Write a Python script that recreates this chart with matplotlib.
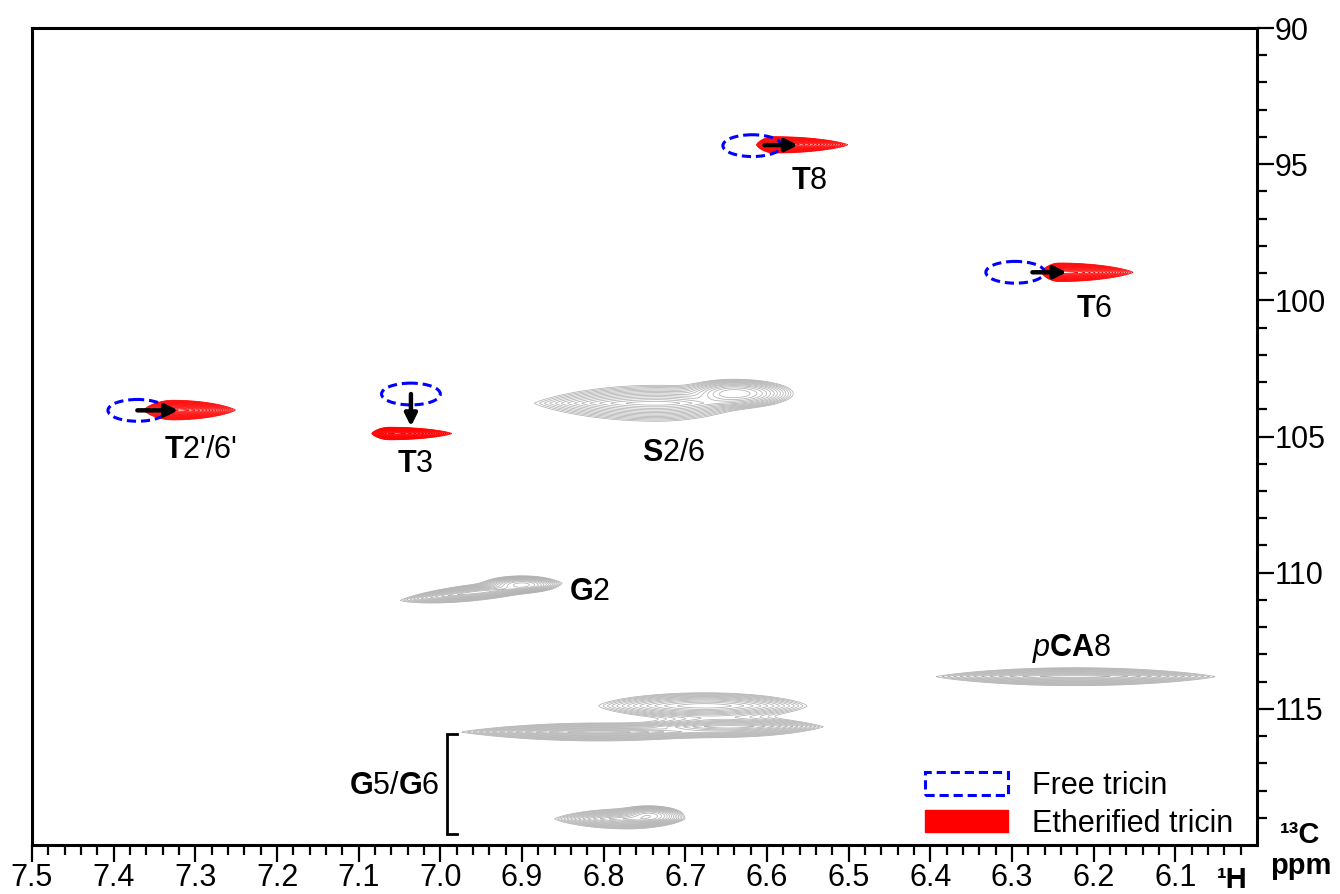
import numpy as np
import matplotlib
matplotlib.use('Agg')
import matplotlib.pyplot as plt
from matplotlib.patches import Ellipse, Patch

plt.rcParams['font.family'] = ['Liberation Sans', 'DejaVu Sans']
plt.rcParams['mathtext.fontset'] = 'custom'
plt.rcParams['mathtext.rm'] = 'Liberation Sans'
plt.rcParams['mathtext.bf'] = 'Liberation Sans:bold'
plt.rcParams['mathtext.it'] = 'Liberation Sans:italic'

# ---------------- data (chemical shifts, ppm) ----------------
# gray lignin cross-peak components:
# 1H centre, 13C centre, 1H half-width toward high ppm (left), toward low ppm (right),
# 13C half-width, shape exponent, tilt (13C ppm per 1H ppm)
gray_h = [6.735, 6.640, 6.955, 6.900, 6.676, 6.805, 6.646, 6.770, 6.744, 6.223]
gray_c = [103.78, 103.42, 110.72, 110.42, 114.89, 115.85, 115.66, 119.04, 118.90, 113.82]
gray_wl = [0.150, 0.060, 0.094, 0.045, 0.130, 0.170, 0.110, 0.090, 0.035, 0.170]
gray_wr = [0.110, 0.072, 0.098, 0.042, 0.125, 0.160, 0.115, 0.065, 0.040, 0.172]
gray_wc = [0.66, 0.52, 0.30, 0.30, 0.48, 0.33, 0.37, 0.37, 0.33, 0.33]
gray_p = [1.2, 2.0, 1.3, 2.0, 1.5, 1.1, 1.2, 1.3, 2.0, 1.2]
gray_tilt = [0.0, 0.0, 3.2, 0.0, 0.0, 0.0, 0.0, 0.0, 0.0, 0.0]

# etherified tricin (red) components
red_h = [7.327, 7.062, 6.591, 6.242]
red_c = [104.03, 104.89, 94.29, 98.97]
red_wl = [0.036, 0.022, 0.022, 0.022]
red_wr = [0.076, 0.076, 0.090, 0.090]
red_wc = [0.36, 0.23, 0.30, 0.34]
red_p = [1.3, 1.3, 1.3, 1.3]
red_tilt = [0.0, 0.0, 0.0, 0.0]

# free tricin positions (dashed ellipses)
free_h = [7.371, 7.036, 6.618, 6.296]
free_c = [104.04, 103.44, 94.32, 98.97]

# shift arrows
arrow_from_h = [7.371, 7.036, 6.603, 6.275]
arrow_from_c = [104.04, 103.44, 94.30, 98.97]
arrow_to_h = [7.321, 7.036, 6.562, 6.233]
arrow_to_c = [104.04, 104.63, 94.30, 98.97]

# peak labels
label_text = [r"$\mathbf{T}$2'/6'", r"$\mathbf{T}$3", r"$\mathbf{S}$2/6", r"$\mathbf{T}$8",
              r"$\mathbf{T}$6", r"$\mathbf{G}$2", r"$\mathit{p}\mathbf{CA}$8"]
label_h = [7.294, 7.031, 6.714, 6.548, 6.199, 6.817, 6.227]
label_c = [105.5, 106.0, 105.6, 95.6, 100.3, 110.7, 112.8]

x_major = [7.5, 7.4, 7.3, 7.2, 7.1, 7.0, 6.9, 6.8, 6.7, 6.6, 6.5, 6.4, 6.3, 6.2, 6.1]
y_major = [90, 95, 100, 105, 110, 115]

# ---------------- figure ----------------
W, H = 1340, 894
fig = plt.figure(figsize=(W / 100, H / 100), dpi=100)
ax = fig.add_axes([32 / W, 1 - 845 / H, (1257 - 32) / W, (845 - 28) / H])

hh = np.linspace(6.0, 7.5, 1800)
cc = np.linspace(90, 120, 1500)
HH, CC = np.meshgrid(hh, cc)
K = np.log(1 / 0.05)


def field(hs, cs, wls, wrs, wcs, ps, tilts):
    Z = np.zeros_like(HH)
    for h0, c0, wl, wr, wc, p, t in zip(hs, cs, wls, wrs, wcs, ps, tilts):
        d = HH - h0
        w = np.where(d > 0, wl, wr)
        r = (d / w) ** 2 + (np.abs(CC - c0 - t * d) / wc) ** p
        Z += np.exp(-K * r)
    return Z


Zg = field(gray_h, gray_c, gray_wl, gray_wr, gray_wc, gray_p, gray_tilt)
Zr = field(red_h, red_c, red_wl, red_wr, red_wc, red_p, red_tilt)

ax.contour(HH, CC, Zg, levels=np.geomspace(0.05, 1.3, 15), colors='#b0b0b0', linewidths=0.55)
ax.contour(HH, CC, Zr, levels=np.geomspace(0.05, 0.98, 18), colors='#ff0000', linewidths=0.55)

for h0, c0 in zip(free_h, free_c):
    ax.add_patch(Ellipse((h0, c0), 0.072, 0.80, fill=False, edgecolor='#0000ff',
                         lw=2.2, linestyle=(0, (3, 1.6)), zorder=4))

for h1, c1, h2, c2 in zip(arrow_from_h, arrow_from_c, arrow_to_h, arrow_to_c):
    ax.annotate('', xy=(h2, c2), xytext=(h1, c1),
                arrowprops=dict(arrowstyle='-|>', lw=3.2, color='black',
                                mutation_scale=18, shrinkA=0, shrinkB=0), zorder=5)

for t, h0, c0 in zip(label_text, label_h, label_c):
    ax.text(h0, c0, t, fontsize=22, ha='center', va='center')

# G5/G6 bracket
ax.plot([6.980, 6.992, 6.992, 6.980], [115.92, 115.92, 119.60, 119.60], color='black',
        lw=2.0, solid_joinstyle='miter')
ax.text(7.001, 117.83, r"$\mathbf{G}$5/$\mathbf{G}$6", fontsize=22, ha='right', va='center')

ax.set_xlim(7.5, 6.0)
ax.set_ylim(120, 90)
ax.set_xticks(x_major)
ax.set_xticklabels([f'{v:.1f}' for v in x_major])
ax.set_xticks(np.round(np.arange(6.02, 7.5, 0.02), 2), minor=True)
ax.set_yticks(y_major)
ax.set_yticks(np.arange(91, 120, 1), minor=True)
ax.yaxis.tick_right()
ax.tick_params(axis='both', which='major', direction='out', length=12, width=1.6,
               labelsize=22, pad=1)
ax.tick_params(axis='both', which='minor', direction='out', length=7, width=1.6)
ax.tick_params(axis='x', which='both', top=False)
ax.tick_params(axis='y', which='both', left=False)
for s in ax.spines.values():
    s.set_linewidth(2.2)

handles = [Patch(facecolor='none', edgecolor='#0000ff', lw=2.2, linestyle=(0, (3, 1.6))),
           Patch(facecolor='#ff0000', edgecolor='#ff0000')]
ax.legend(handles, ['Free tricin', 'Etherified tricin'], loc='lower left',
          bbox_to_anchor=(0.724, 0.0), frameon=False, fontsize=22,
          handlelength=2.7, handleheight=0.75, handletextpad=0.8, labelspacing=0.25,
          borderpad=0.2, borderaxespad=0)

fig.text(1280 / W, 1 - 843 / H, '¹³C', fontsize=21, fontweight='bold', ha='left', va='baseline')
fig.text(1270 / W, 1 - 874 / H, 'ppm', fontsize=21, fontweight='bold', ha='left', va='baseline')
fig.text(1217 / W, 1 - 888 / H, '¹H', fontsize=21, fontweight='bold', ha='left', va='baseline')

fig.savefig('out.png', dpi=100)
